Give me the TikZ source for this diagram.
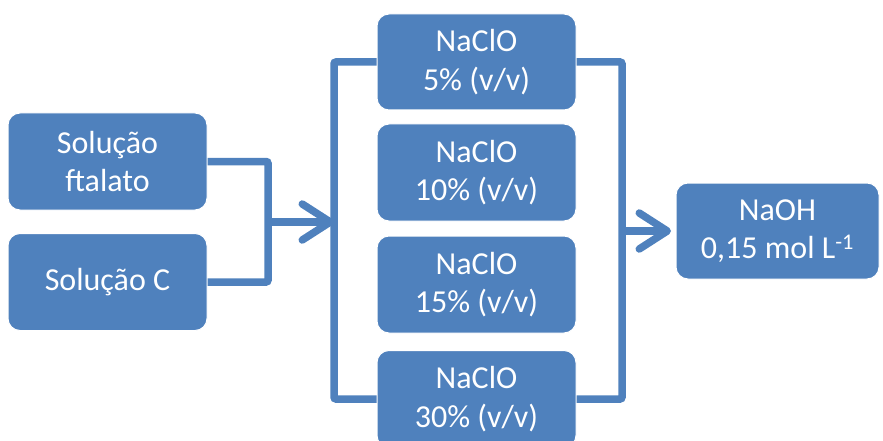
\documentclass[tikz,border=0pt]{standalone}
\usepackage{fontspec}
\setmainfont{Carlito}
\usetikzlibrary{arrows.meta}
\definecolor{boxblue}{RGB}{79,129,189}
\tikzset{
  box/.style={rectangle, rounded corners=12pt, fill=boxblue, draw=white, line width=1pt,
    text=white, align=center, minimum width=199pt, minimum height=97pt, inner sep=0pt,
    font=\fontsize{32}{38.5}\selectfont},
  link/.style={draw=boxblue, line width=7.5pt, rounded corners=2pt},
  chevron/.style={link, -{Straight Barb[length=28pt, width=36pt, round]}}
}
\begin{document}
\begin{tikzpicture}[x=1pt, y=-1pt]
\useasboundingbox (0,0) rectangle (883,441);
\begin{scope}
\clip (0,0) rectangle (883,441);

% sources
\node[box] (ft) at (107.5,161.5) {Solução\\ftalato};
\node[box] (sc) at (107.5,282) {Solução C};

% hypochlorite concentrations
\node[box, minimum height=96pt] (n5)  at (476.5,62)    {NaClO\\5\% (v/v)};
\node[box, minimum height=97pt] (n10) at (476.5,172.5) {NaClO\\10\% (v/v)};
\node[box, minimum height=97pt] (n15) at (476.5,284.5) {NaClO\\15\% (v/v)};
\node[box, minimum height=97pt] (n30) at (476.5,399)   {NaClO\\30\% (v/v)};

% titrant
\node[box, minimum width=203pt, minimum height=96pt] (na) at (777.5,231) {NaOH\\0,15 mol L\textsuperscript{-1}};

% junction points of the brackets
\coordinate (jl) at (268,222);
\coordinate (bl) at (334,222);
\coordinate (jr) at (622,231);
\coordinate (tip) at (671,231);

% merge of the two sources
\draw[link] (ft.east) -| (jl) |- (sc.east);
\draw[chevron] (jl) -- (bl);

% left bracket over the concentrations
\draw[link] (n5.west) -| (bl) |- (n30.west);

% right bracket and arrow to the titrant
\draw[link] (n5.east) -| (jr) |- (n30.east);
\draw[chevron] (jr) -- (tip);
\end{scope}
\end{tikzpicture}
\end{document}
